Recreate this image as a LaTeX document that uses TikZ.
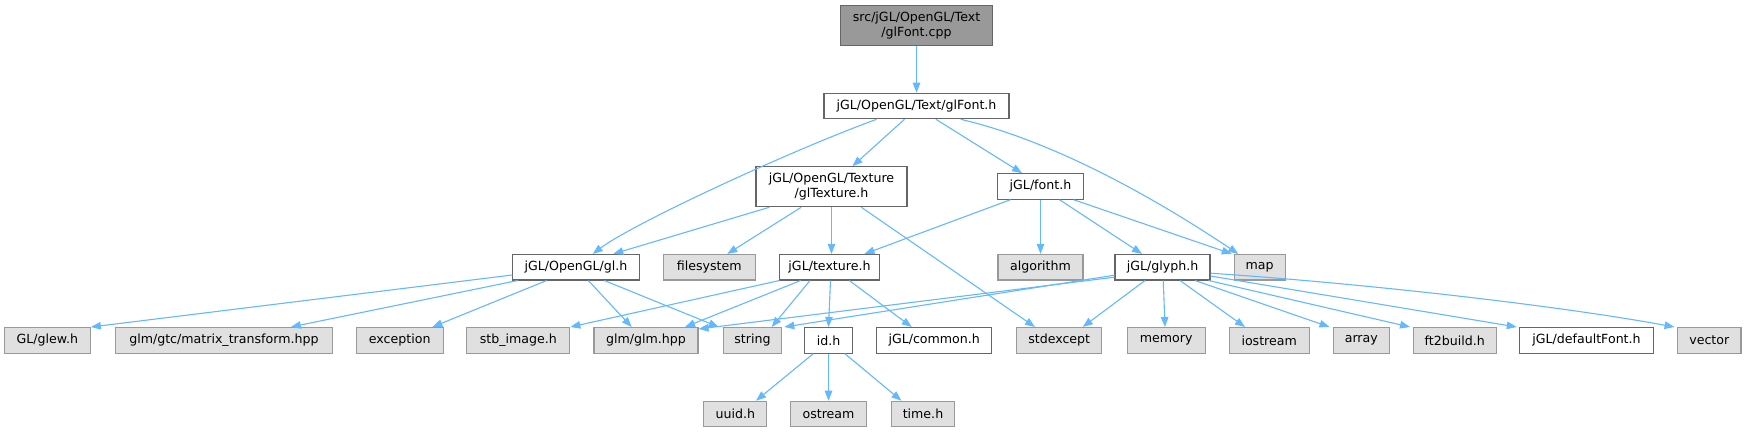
\documentclass[tikz,border=0pt]{standalone}
\usepackage{fontspec}
\setmainfont{DejaVu Sans}
\usetikzlibrary{arrows.meta,calc}
\definecolor{cblue}{HTML}{63B8FF}
\definecolor{cdark}{HTML}{666666}
\definecolor{cmid}{HTML}{999999}
\definecolor{clight}{HTML}{E0E0E0}
\begin{document}
\begin{tikzpicture}[x=1pt,y=-1pt,
  base/.style={draw, line width=1.1pt, inner sep=0pt, text=black, align=center,
    font=\fontsize{12.6}{15.3}\selectfont, minimum height=25.5pt},
  intn/.style={base, draw=cdark, fill=white},
  extn/.style={base, draw=cmid, fill=clight},
  rootn/.style={base, draw=cdark, fill=cmid, minimum height=40.3pt},
  twoline/.style={minimum height=40pt},
  edge/.style={draw=cblue, line width=1.1pt, -{Triangle[length=10pt,width=7.5pt]}}]
\useasboundingbox (0,0) rectangle (1746,432);
% row 0-2
\node[rootn, minimum width=152.6pt] (root) at (916.5,25.2) {src/jGL/OpenGL/Text\\/glFont.cpp};
\node[intn, minimum width=185pt] (glFont) at (916.5,106) {jGL/OpenGL/Text/glFont.h};
\node[intn, twoline, minimum width=151pt] (glTex) at (831.5,186.7) {jGL/OpenGL/Texture\\/glTexture.h};
\node[intn, minimum width=86pt] (font) at (1040.5,186.4) {jGL/font.h};
% row 3
\node[intn, minimum width=126.5pt] (gl) at (576,267.2) {jGL/OpenGL/gl.h};
\node[extn, minimum width=91.7pt] (filesystem) at (709.2,267.2) {filesystem};
\node[intn, minimum width=100pt] (texture) at (829.5,267.2) {jGL/texture.h};
\node[extn, minimum width=85pt] (algorithm) at (1040.5,267.2) {algorithm};
\node[intn, minimum width=95pt] (glyph) at (1162.5,267.2) {jGL/glyph.h};
\node[extn, minimum width=50.7pt] (map) at (1259.7,267.2) {map};
% row 4
\node[extn, minimum width=86pt] (glew) at (47.3,340.3) {GL/glew.h};
\node[extn, minimum width=217.3pt] (matrix) at (223.9,340.3) {glm/gtc/matrix\_transform.hpp};
\node[extn, minimum width=86.8pt] (exception) at (399.7,340.3) {exception};
\node[extn, minimum width=103pt] (stb) at (518.3,340.3) {stb\_image.h};
\node[extn, minimum width=104pt] (glm) at (646,340.3) {glm/glm.hpp};
\node[extn, minimum width=58.5pt] (string) at (752.5,340.3) {string};
\node[intn, minimum width=47.4pt] (id) at (828.5,340.3) {id.h};
\node[intn, minimum width=115pt] (common) at (934.2,340.3) {jGL/common.h};
\node[extn, minimum width=85pt] (stdexcept) at (1059.2,340.3) {stdexcept};
\node[extn, minimum width=77.7pt] (memory) at (1166.2,340.3) {memory};
\node[extn, minimum width=79.7pt] (iostream) at (1269.2,340.3) {iostream};
\node[extn, minimum width=56.5pt] (array) at (1361.3,340.3) {array};
\node[extn, minimum width=83.3pt] (ft2build) at (1454.7,340.3) {ft2build.h};
\node[intn, minimum width=133.4pt] (defaultFont) at (1586.5,340.3) {jGL/defaultFont.h};
\node[extn, minimum width=63.4pt] (vector) at (1709.3,340.3) {vector};
% row 5
\node[extn, minimum width=63pt] (uuid) at (735.3,414) {uuid.h};
\node[extn, minimum width=76pt] (ostream) at (828.5,414) {ostream};
\node[extn, minimum width=63.5pt] (time) at (923,414) {time.h};
% edges
\draw[edge] (root.south) -- (glFont.north);
\draw[edge] ([xshift=-40pt]glFont.south) .. controls +(-90,33) and +(40,-30) .. ([xshift=16.7pt]gl.north);
\draw[edge] ([xshift=-12pt]glFont.south) -- ([xshift=21pt]glTex.north);
\draw[edge] ([xshift=19.4pt]glFont.south) -- ([xshift=-18.5pt]font.north);
\draw[edge] ([xshift=44.2pt]glFont.south) .. controls +(112,26) and +(-48,-32) .. ([xshift=-21.4pt]map.north);
\draw[edge] ([xshift=-62.1pt]glTex.south) -- ([xshift=37.3pt]gl.north);
\draw[edge] ([xshift=-30.3pt]glTex.south) -- ([xshift=18.1pt]filesystem.north);
\draw[edge] (glTex.south) -- (glTex.south |- texture.north);
\draw[edge] ([xshift=29.8pt]glTex.south) -- ([xshift=-24.2pt]stdexcept.north);
\draw[edge] ([xshift=-30pt]font.south) -- ([xshift=35pt]texture.north);
\draw[edge] (font.south) -- (font.south |- algorithm.north);
\draw[edge] ([xshift=19pt]font.south) -- ([xshift=-20.5pt]glyph.north);
\draw[edge] ([xshift=33.1pt]font.south) -- ([xshift=-2pt]map.north west);
\draw[edge] ([yshift=-7.8pt]gl.west) -- (glew.north east);
\draw[edge] ([xshift=5.6pt]gl.south west) -- ([xshift=66.9pt]matrix.north);
\draw[edge] ([xshift=-29.3pt]gl.south) -- ([xshift=32.7pt]exception.north);
\draw[edge] ([xshift=12.3pt]gl.south) -- ([xshift=-14.3pt]glm.north);
\draw[edge] ([xshift=28.3pt]gl.south) -- ([xshift=-4pt]string.north west);
\draw[edge] ([xshift=0.5pt]texture.south west) -- (stb.north east);
\draw[edge] ([xshift=-28.8pt]texture.south) -- ([xshift=39pt]glm.north);
\draw[edge] ([xshift=-19.5pt]texture.south) -- ([xshift=19.2pt]string.north);
\draw[edge] ([xshift=1pt]texture.south) -- (id.north);
\draw[edge] ([xshift=19.8pt]texture.south) -- ([xshift=-22.5pt]common.north);
\draw[edge] ([yshift=-10pt]glyph.west) -- ([yshift=-2pt]glm.north east);
\draw[edge] ([yshift=-8pt]glyph.west) -- ([xshift=2pt]string.north east);
\draw[edge] ([xshift=-17.5pt]glyph.south) -- ([xshift=23.5pt]stdexcept.north);
\draw[edge] ([xshift=0.8pt]glyph.south) -- ([xshift=-1.2pt]memory.north);
\draw[edge] ([xshift=17.5pt]glyph.south) -- ([xshift=-24.2pt]iostream.north);
\draw[edge] ([xshift=32.5pt]glyph.south) -- ([xshift=-3pt]array.north west);
\draw[edge] ([xshift=-2pt]glyph.south east) -- ([xshift=-2.5pt]ft2build.north west);
\draw[edge] ([yshift=-8.8pt]glyph.east) -- ([xshift=-2.5pt]defaultFont.north west);
\draw[edge] ([yshift=-6pt]glyph.east) .. controls +(150,10) and +(-120,-22) .. ([xshift=-2.5pt]vector.north west);
\draw[edge] ([xshift=-15.1pt]id.south) -- ([xshift=20.7pt]uuid.north);
\draw[edge] (id.south) -- (ostream.north);
\draw[edge] ([xshift=16.3pt]id.south) -- ([xshift=-21.6pt]time.north);
\end{tikzpicture}
\end{document}
